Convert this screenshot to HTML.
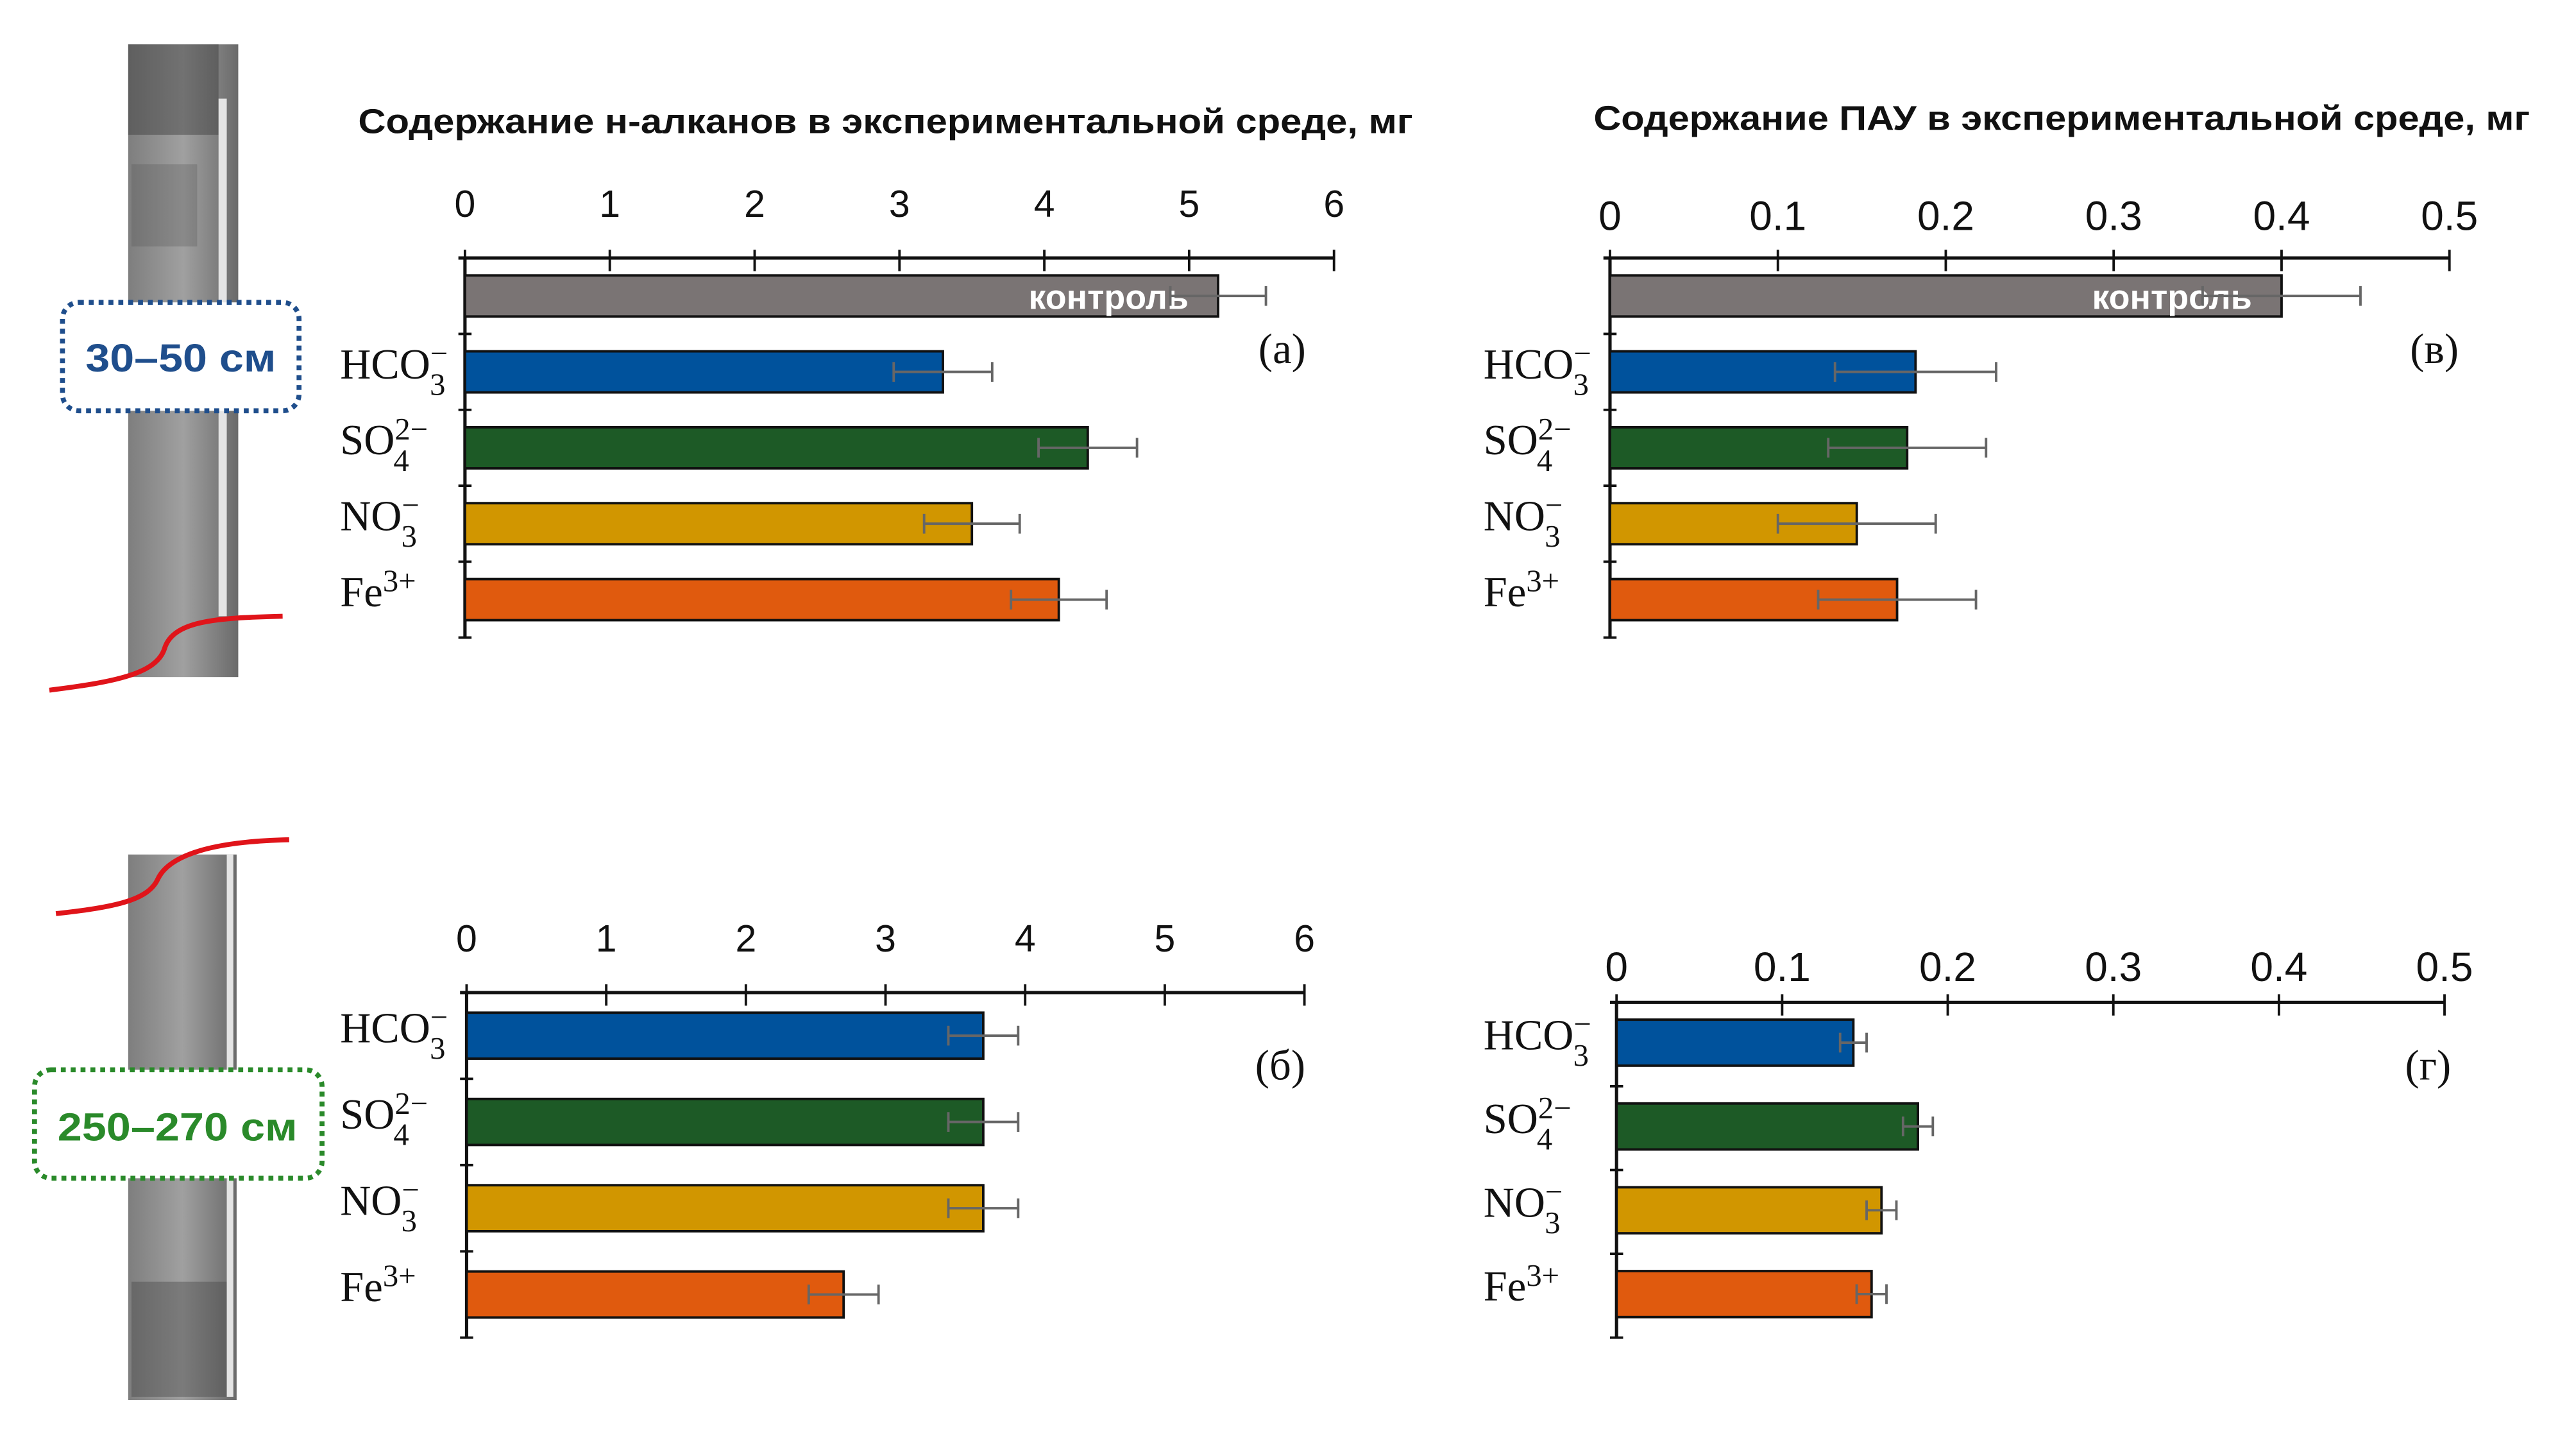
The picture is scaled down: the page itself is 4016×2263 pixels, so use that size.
<!DOCTYPE html>
<html><head><meta charset="utf-8"><style>
html,body{margin:0;padding:0;background:#fff}
svg{display:block}
</style></head><body>
<svg id="fig" width="4016" height="2263" viewBox="0 0 1568 883.6" xmlns="http://www.w3.org/2000/svg" font-family="Liberation Sans, sans-serif">
<defs>
<linearGradient id="coreG" x1="0" x2="1"><stop offset="0" stop-color="#7e7e7e"/><stop offset="0.5" stop-color="#a0a0a0"/><stop offset="1" stop-color="#6a6a6a"/></linearGradient>
</defs>
<g>
<rect x="78" y="27" width="67" height="385" fill="url(#coreG)"/>
<rect x="78" y="27" width="55" height="55" fill="#3a3a3a" opacity="0.45"/>
<rect x="80" y="100" width="40" height="50" fill="#555" opacity="0.3"/>
<rect x="133" y="60" width="5" height="315" fill="#e4e4e4"/>
<path d="M30 420 C70 415 95 410 100 395 C105 378 130 376 172 375" fill="none" stroke="#e0141a" stroke-width="3"/>
</g>
<g>
<rect x="78" y="520" width="66" height="332" fill="url(#coreG)"/>
<rect x="80" y="780" width="60" height="70" fill="#444" opacity="0.4"/>
<rect x="138" y="520" width="4" height="330" fill="#e4e4e4"/>
<path d="M34 556 C70 552 90 548 96 535 C103 520 130 512 176 511" fill="none" stroke="#e0141a" stroke-width="3"/>
</g>
<g>
<rect x="38" y="184" width="144" height="66" rx="10" fill="#fff" stroke="#1f4e8c" stroke-width="3" stroke-dasharray="3 3"/>
<text x="110" y="226" text-anchor="middle" font-size="24" font-weight="bold" fill="#1f4e8c" textLength="116" lengthAdjust="spacingAndGlyphs">30–50 см</text>
</g>
<g>
<rect x="21" y="651" width="175" height="66" rx="10" fill="#fff" stroke="#2a8a2a" stroke-width="3" stroke-dasharray="3 3"/>
<text x="108" y="694" text-anchor="middle" font-size="24" font-weight="bold" fill="#2a8a2a" textLength="146" lengthAdjust="spacingAndGlyphs">250–270 см</text>
</g>
<text x="218" y="81" font-size="21" font-weight="bold" fill="#111" textLength="642" lengthAdjust="spacingAndGlyphs">Содержание н-алканов в экспериментальной среде, мг</text>
<text x="970" y="79" font-size="21" font-weight="bold" fill="#111" textLength="570" lengthAdjust="spacingAndGlyphs">Содержание ПАУ в экспериментальной среде, мг</text>
<g id="charts"></g>
</svg>
<script>
const categoriesTop = ["контроль","HCO3","SO4","NO3","Fe"];
const categoriesBottom = ["HCO3","SO4","NO3","Fe"];
const alkTopValues = [5.2, 3.3, 4.3, 3.5, 4.1];
const alkTopErr = [0.33, 0.34, 0.34, 0.33, 0.33];
const alkBotValues = [3.7, 3.7, 3.7, 2.7];
const alkBotErr = [0.25, 0.25, 0.25, 0.25];
const pahTopValues = [0.400, 0.182, 0.177, 0.147, 0.171];
const pahTopErr = [0.047, 0.048, 0.047, 0.047, 0.047];
const pahBotValues = [0.143, 0.182, 0.160, 0.154];
const pahBotErr = [0.008, 0.009, 0.009, 0.009];
const alkTicks = ["0","1","2","3","4","5","6"];
const pahTicks = ["0","0.1","0.2","0.3","0.4","0.5"];
const colors = {"контроль":"#7a7474","HCO3":"#00529c","SO4":"#1d5a26","NO3":"#d19600","Fe":"#e05a0e"};
const NS="http://www.w3.org/2000/svg";
const root=document.getElementById('charts');
function mk(tag,attrs,parent){const e=document.createElementNS(NS,tag);for(const k in attrs)e.setAttribute(k,attrs[k]);(parent||root).appendChild(e);return e;}
function catLabel(g,cat,x,y){
  const t=mk('text',{x:x,y:y,'font-family':'Liberation Serif, serif','font-size':'26',fill:'#111'},g);
  
  
  const parts={HCO3:['HCO','3','−'],SO4:['SO','4','2−'],NO3:['NO','3','−'],Fe:['Fe','','3+']}[cat];
  const a=mk('tspan',{},t);a.textContent=parts[0];
  if(parts[2]){const s=mk('tspan',{dy:'-9','font-size':'19'},t);s.textContent=parts[2];}
  if(parts[1]){const b=mk('tspan',{dy:'19','font-size':'19',dx:parts[2]?(-10*parts[2].length-1):0},t);b.textContent=parts[1];}
}
function chart(o){
  const g=mk('g',{});
  
  
  const xs=v=>o.x0+(o.x1-o.x0)*v/o.max;
  mk('line',{x1:o.x0-4,x2:o.x1,y1:o.axisY,y2:o.axisY,stroke:'#111','stroke-width':2},g);
  o.ticks.forEach((lab,i)=>{
    const v=o.max*i/(o.ticks.length-1),x=xs(v);
    mk('line',{x1:x,x2:x,y1:o.axisY-5,y2:o.axisY+8,stroke:'#111','stroke-width':1.5},g);
    const t=mk('text',{x:x,y:o.tickY,'text-anchor':'middle','font-size':o.tickFs,fill:'#111'},g);
    
    
    t.textContent=lab;
  });
  const n=o.cats.length;
  const bandTop=o.axisY, band=(o.yEnd-bandTop)/n;
  mk('line',{x1:o.x0,x2:o.x0,y1:o.axisY,y2:o.yEnd,stroke:'#111','stroke-width':2},g);
  for(let i=1;i<=n;i++){const y=bandTop+band*i; mk('line',{x1:o.x0-4,x2:o.x0+4,y1:y,y2:y,stroke:'#111','stroke-width':1.5},g);}
  o.cats.forEach((c,i)=>{
    const yc=bandTop+band*(i+0.5)-(o.shift||0), h=o.barH;
    const r=mk('rect',{x:o.x0,y:yc-h/2,width:xs(o.vals[i])-o.x0,height:h,fill:colors[c],stroke:'#111','stroke-width':1.5},g);
    
    
    if(c==='контроль'){
      const t=mk('text',{x:xs(o.vals[i])-18,y:yc+8,'text-anchor':'end','font-size':'21','font-weight':'bold',fill:'#fff'},g);
      
      
      t.textContent='контроль';
    } else catLabel(g,c,o.labelX,yc+4);
    const e1=xs(o.vals[i]-o.errs[i]),e2=xs(o.vals[i]+o.errs[i]);
    const eb=mk('path',{d:`M${e1} ${yc}H${e2}M${e1} ${yc-6}V${yc+6}M${e2} ${yc-6}V${yc+6}`,stroke:'#666','stroke-width':1.5,fill:'none'},g);
    
    
  });
  const p=mk('text',{x:o.panelX,y:o.panelY,'font-family':'Liberation Serif, serif','font-size':'26',fill:'#111'},g);
  
  
  p.textContent=o.panel;
}
chart({name:'chart-alkanes-top',x0:283,x1:812,max:6,ticks:alkTicks,axisY:157,tickY:132,tickFs:23,cats:categoriesTop,vals:alkTopValues,errs:alkTopErr,yEnd:388,barH:25,labelX:207,panel:'(а)',panelX:766,panelY:221});
chart({name:'chart-alkanes-bottom',x0:284,x1:794,max:6,ticks:alkTicks,axisY:604,tickY:579,tickFs:23,cats:categoriesBottom,vals:alkBotValues,errs:alkBotErr,yEnd:814,barH:28,labelX:207,panel:'(б)',panelX:764,panelY:657,shift:0});
chart({name:'chart-pah-top',x0:980,x1:1491,max:0.5,ticks:pahTicks,axisY:157,tickY:140,tickFs:25,cats:categoriesTop,vals:pahTopValues,errs:pahTopErr,yEnd:388,barH:25,labelX:903,panel:'(в)',panelX:1467,panelY:221});
chart({name:'chart-pah-bottom',x0:984,x1:1488,max:0.5,ticks:pahTicks,axisY:610,tickY:597,tickFs:25,cats:categoriesBottom,vals:pahBotValues,errs:pahBotErr,yEnd:814,barH:28,labelX:903,panel:'(г)',panelX:1464,panelY:657,shift:1});
</script>
</body></html>
